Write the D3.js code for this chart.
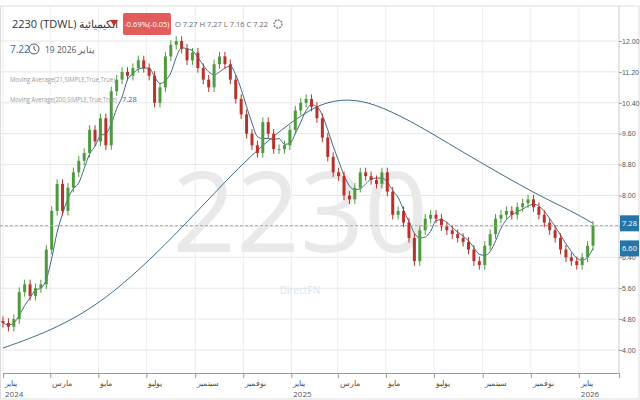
<!DOCTYPE html>
<html><head><meta charset="utf-8">
<script src="https://cdn.jsdelivr.net/npm/d3@7"></script>
<style>body{margin:0;background:#fff;font-family:"Open Sans",sans-serif}</style>
</head><body><div id="chart"></div>
<script>
// weekly closes, Jan 2024 -> Jan 19 2026
var closes = [4.7,4.6,4.8,5.5,5.7,5.4,5.6,5.7,6.6,7.6,8.3,7.6,8.2,8.6,8.9,9.1,9.7,9.4,10.0,9.3,
  10.7,11.0,11.2,11.1,11.3,11.5,11.3,11.1,10.4,10.8,11.6,11.9,12.0,11.8,11.5,11.7,11.3,11.0,10.8,11.4,
  11.6,11.4,11.0,10.5,10.1,9.6,9.3,9.1,9.9,9.6,9.2,9.2,9.3,9.7,10.2,10.4,10.5,10.3,10.0,9.5,
  9.0,8.6,8.5,8.0,7.9,8.2,8.6,8.5,8.4,8.3,8.6,8.1,7.5,7.6,7.3,6.9,6.3,7.1,7.4,7.5,
  7.4,7.2,7.1,7.0,6.9,6.8,6.6,6.3,6.2,6.7,7.0,7.4,7.5,7.6,7.5,7.7,7.8,7.9,7.7,7.5,
  7.3,7.1,6.9,6.6,6.4,6.3,6.2,6.4,6.7,7.22];
var ma200Idx = [0,9,18,27,36,46,55,60,65,70,77,84,92,99,105,109];
var ma200Val = [4.05,4.5,5.2,6.3,7.6,9.1,10.1,10.45,10.5,10.3,9.8,9.2,8.55,8.0,7.6,7.28];
var yTicks = [4.0,4.8,5.6,6.4,7.2,8.0,8.8,9.6,10.4,11.2,12.0];
var monthTicks = [["يناير","2024",new Date(2024,0,1)],["مارس","",new Date(2024,2,1)],["مايو","",new Date(2024,4,1)],
  ["يوليو","",new Date(2024,6,1)],["سبتمبر","",new Date(2024,8,1)],["نوفمبر","",new Date(2024,10,1)],
  ["يناير","2025",new Date(2025,0,1)],["مارس","",new Date(2025,2,1)],["مايو","",new Date(2025,4,1)],
  ["يوليو","",new Date(2025,6,1)],["سبتمبر","",new Date(2025,8,1)],["نوفمبر","",new Date(2025,10,1)],
  ["يناير","2026",new Date(2026,0,1)]];

var W = 640, H = 400, plotR = 619, plotT = 6, plotB = 373;
var start = new Date(2024,0,1), end = new Date(2026,0,19);
var step = (end - start) / (closes.length - 1);
var dates = closes.map(function(d, i){ return new Date(+start + i*step); });

var svg = d3.select("#chart").append("svg").attr("width", W).attr("height", H);
var x = d3.scaleTime().domain([start, new Date(2026,1,21)]).range([3, plotR]);
var y = d3.scaleLinear().domain([4, 12]).range([350, 41]);

// grid
svg.append("g").selectAll("line").data(yTicks).enter().append("line")
  .attr("x1", 0).attr("x2", plotR).attr("y1", d => y(d)).attr("y2", d => y(d))
  .attr("stroke", "#e6e6e6");
svg.append("g").selectAll("line").data(monthTicks).enter().append("line")
  .attr("x1", d => x(d[2])).attr("x2", d => x(d[2])).attr("y1", plotT).attr("y2", plotB)
  .attr("stroke", "#ececec");
svg.append("rect").attr("x", 0.5).attr("y", plotT).attr("width", W - 1.5).attr("height", H - plotT - 1)
  .attr("fill", "none").attr("stroke", "#ddd");
svg.append("line").attr("x1", plotR).attr("x2", plotR).attr("y1", plotT).attr("y2", plotB).attr("stroke", "#ccc");

// watermark
svg.append("text").attr("x", 300).attr("y", 252).attr("text-anchor", "middle")
  .attr("font-size", 112).attr("fill", "#e9e9e9").text("2230");
svg.append("text").attr("x", 300).attr("y", 294).attr("text-anchor", "middle")
  .attr("font-size", 10).attr("fill", "#d9e3ee").text("DirectFN");

// y axis labels
var yAxis = d3.axisRight(y).tickValues(yTicks).tickSize(3).tickFormat(d3.format(".2f"));
var ya = svg.append("g").attr("transform", `translate(${plotR},0)`).call(yAxis);
ya.select(".domain").remove();
ya.selectAll("text").attr("font-size", 7).attr("fill", "#555").attr("x", 3);
ya.selectAll("line").attr("stroke", "#999");

// x axis
var xa = svg.append("g").attr("transform", `translate(0,${plotB})`)
  .call(d3.axisBottom(x).tickValues(monthTicks.map(d => d[2])).tickSize(5).tickFormat(""));
xa.select(".domain").attr("stroke", "#999");
xa.selectAll("line").attr("stroke", "#999");
var lab = svg.append("g").selectAll("g").data(monthTicks).enter().append("g");
lab.append("text").attr("x", d => x(d[2]) + 2).attr("y", 386).attr("font-size", 8).attr("fill", "#555").text(d => d[0]);
lab.append("text").attr("x", d => x(d[2]) + 2).attr("y", 397).attr("font-size", 8).attr("fill", "#555").text(d => d[1]);

// MA lines
var ma21 = closes.map(function(c, i){ var s = closes.slice(Math.max(0, i-3), i+1); return d3.mean(s); });
var line = d3.line().x(d => x(d[0])).y(d => y(d[1])).curve(d3.curveMonotoneX);
svg.append("path").datum(ma21.map((v, i) => [dates[i], v]))
  .attr("d", line).attr("fill", "none").attr("stroke", "#3b6b86").attr("stroke-width", 1);
svg.append("path").datum(ma200Idx.map((k, i) => [dates[k], ma200Val[i]]))
  .attr("d", d3.line().x(d => x(d[0])).y(d => y(d[1])).curve(d3.curveBasis))
  .attr("fill", "none").attr("stroke", "#3b6b86").attr("stroke-width", 1);

// candles
var candles = closes.map(function(c, i){
  var o = i ? closes[i-1] : c + 0.05;
  return {d: dates[i], o: o, c: c, h: Math.max(o, c) + 0.12, l: Math.min(o, c) - 0.12};
});
var cg = svg.append("g").selectAll("g").data(candles).enter().append("g");
cg.append("line").attr("x1", d => x(d.d)).attr("x2", d => x(d.d))
  .attr("y1", d => y(d.h)).attr("y2", d => y(d.l))
  .attr("stroke", d => d.c >= d.o ? "#4f9a3e" : "#b5332b");
cg.append("rect").attr("x", d => x(d.d) - 1.5).attr("width", 3)
  .attr("y", d => y(Math.max(d.o, d.c))).attr("height", d => Math.max(1, Math.abs(y(d.o) - y(d.c))))
  .attr("fill", d => d.c >= d.o ? "#4f9a3e" : "#b5332b");

// last price dashed line and markers
var last = closes[closes.length - 1];
svg.append("line").attr("x1", 0).attr("x2", plotR).attr("y1", y(last)).attr("y2", y(last))
  .attr("stroke", "#aaa").attr("stroke-dasharray", "3,2");
[[ma200Val[ma200Val.length-1], "7.28"], [ma21[ma21.length-1], "6.60"]].forEach(function(m){
  svg.append("rect").attr("x", plotR + 1).attr("y", y(m[0]) - 8).attr("width", 19).attr("height", 16).attr("fill", "#2576a8");
  svg.append("text").attr("x", plotR + 10.5).attr("y", y(m[0]) + 3).attr("text-anchor", "middle")
    .attr("font-size", 7.5).attr("fill", "#fff").text(m[1]);
});

// header
svg.append("text").attr("x", 12).attr("y", 28).attr("font-size", 11).attr("fill", "#333")
  .text("2230 (TDWL) الكيميائية");
svg.append("path").attr("d", "M110,20 L118,20 L114,26 Z").attr("fill", "#c0302c");
svg.append("rect").attr("x", 123).attr("y", 13).attr("width", 48).attr("height", 22).attr("rx", 2).attr("fill", "#e25c5c");
svg.append("text").attr("x", 147).attr("y", 27).attr("text-anchor", "middle").attr("font-size", 7.5).attr("fill", "#fff").text("-0.69%(-0.05)");
svg.append("text").attr("x", 175).attr("y", 27).attr("font-size", 7.5).attr("fill", "#666").text("O  7.27   H  7.27   L  7.16   C  7.22");
svg.append("circle").attr("cx", 278).attr("cy", 24).attr("r", 4).attr("fill", "none").attr("stroke", "#777").attr("stroke-width", 1.3).attr("stroke-dasharray", "2,1");
svg.append("text").attr("x", 10).attr("y", 53).attr("font-size", 10).attr("fill", "#2f6a98").text("7.22");
svg.append("circle").attr("cx", 34).attr("cy", 49).attr("r", 5).attr("fill", "none").attr("stroke", "#555");
svg.append("path").attr("d", "M34,46 L34,49 L36,51").attr("fill", "none").attr("stroke", "#555");
svg.append("text").attr("x", 45).attr("y", 53).attr("font-size", 8.5).attr("fill", "#555").text("19 2026");
svg.append("text").attr("x", 78).attr("y", 53).attr("font-size", 8.5).attr("fill", "#555").text("يناير");
svg.append("text").attr("x", 10).attr("y", 82).attr("font-size", 7).attr("fill", "#999")
  .attr("textLength", 105).attr("lengthAdjust", "spacingAndGlyphs").text("Moving Average(21,SIMPLE,True,True)");
svg.append("text").attr("x", 10).attr("y", 102).attr("font-size", 7).attr("fill", "#999")
  .attr("textLength", 107).attr("lengthAdjust", "spacingAndGlyphs").text("Moving Average(200,SIMPLE,True,True)");
svg.append("text").attr("x", 122).attr("y", 102).attr("font-size", 7.5).attr("fill", "#2f6a98").text("7.28");
</script></body></html>
